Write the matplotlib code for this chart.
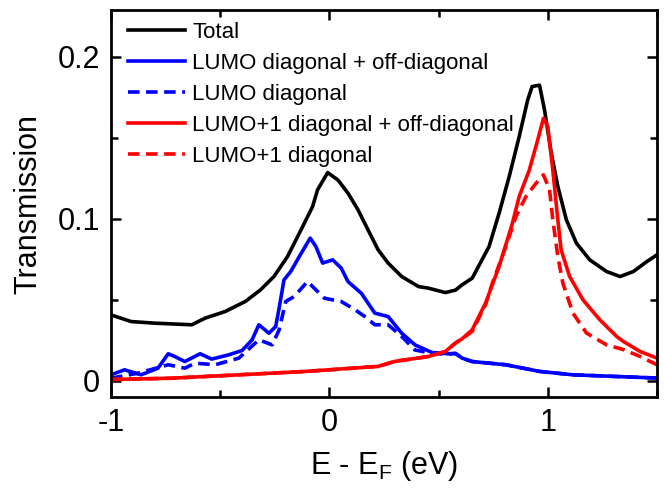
import numpy as np
import matplotlib
matplotlib.use('Agg')
import matplotlib.pyplot as plt
from matplotlib.ticker import MultipleLocator

plt.rcParams['font.family'] = ['Liberation Sans', 'DejaVu Sans']
plt.rcParams['mathtext.fontset'] = 'custom'
plt.rcParams['mathtext.rm'] = 'Liberation Sans'

# Total transmission
e_total = [-1.0, -0.908, -0.80, -0.63, -0.569, -0.477, -0.385, -0.315, -0.254, -0.192,
           -0.13, -0.077, -0.054, -0.008, 0.039, 0.085, 0.131, 0.177, 0.223, 0.269,
           0.331, 0.408, 0.454, 0.531, 0.577, 0.608, 0.654, 0.731, 0.777, 0.823,
           0.869, 0.908, 0.928, 0.962, 0.985, 1.016, 1.046, 1.085, 1.131, 1.192,
           1.269, 1.331, 1.392, 1.454, 1.50]
t_total = [0.0407, 0.0366, 0.0356, 0.0346, 0.0387, 0.0428, 0.049, 0.0562, 0.0644, 0.0767,
           0.0932, 0.1076, 0.118, 0.1286, 0.124, 0.1159, 0.1056, 0.0932, 0.0809, 0.0727,
           0.0644, 0.0582, 0.0572, 0.0545, 0.056, 0.0593, 0.0634, 0.0829, 0.1035, 0.126,
           0.1508, 0.1735, 0.1817, 0.1826, 0.1673, 0.1405, 0.12, 0.0994, 0.085, 0.0747,
           0.0675, 0.0644, 0.0675, 0.0737, 0.0778]

# LUMO diagonal + off-diagonal
e_lumo = [-1.0, -0.938, -0.862, -0.785, -0.738, -0.708, -0.662, -0.592, -0.539, -0.462,
          -0.4, -0.354, -0.323, -0.277, -0.246, -0.23, -0.208, -0.177, -0.138, -0.088,
          -0.062, -0.031, 0.015, 0.054, 0.085, 0.146, 0.208, 0.269, 0.331, 0.392,
          0.469, 0.546, 0.577, 0.608, 0.654, 0.808, 0.962, 1.115, 1.5]
t_lumo = [0.0037, 0.0068, 0.0037, 0.0078, 0.0167, 0.015, 0.0119, 0.0167, 0.0134, 0.016,
          0.0187, 0.0253, 0.0346, 0.0294, 0.0335, 0.045, 0.0623, 0.0675, 0.0767, 0.0881,
          0.083, 0.0727, 0.0747, 0.0696, 0.0613, 0.0541, 0.0418, 0.0397, 0.0294, 0.0222,
          0.0175, 0.0167, 0.017, 0.014, 0.0119, 0.0099, 0.0058, 0.0037, 0.0017]

# LUMO diagonal
e_lumo_d = [-1.0, -0.877, -0.738, -0.662, -0.615, -0.523, -0.415, -0.323, -0.262, -0.23,
            -0.2, -0.162, -0.1, -0.062, -0.023, 0.054, 0.116, 0.162, 0.208, 0.269,
            0.331, 0.392, 0.485, 0.546, 0.577, 0.608, 0.654, 0.808, 0.962, 1.115, 1.5]
t_lumo_d = [0.0016, 0.0047, 0.0099, 0.0078, 0.0109, 0.0099, 0.014, 0.0253, 0.0222, 0.0315,
            0.049, 0.052, 0.0613, 0.0562, 0.051, 0.049, 0.044, 0.0397, 0.0346, 0.0346,
            0.0274, 0.019, 0.0167, 0.0165, 0.0168, 0.014, 0.0119, 0.0099, 0.0058, 0.0037, 0.0017]

# LUMO+1 diagonal + off-diagonal
e_lumo1 = [-1.0, -0.723, -0.415, -0.108, 0.223, 0.3, 0.454, 0.531, 0.577, 0.608,
           0.654, 0.715, 0.777, 0.838, 0.869, 0.915, 0.954, 0.98, 1.0, 1.023,
           1.046, 1.061, 1.1, 1.161, 1.238, 1.315, 1.346, 1.423, 1.5]
t_lumo1 = [0.0008, 0.0016, 0.0037, 0.0058, 0.0089, 0.012, 0.015, 0.0181, 0.0233, 0.026,
           0.0315, 0.048, 0.0706, 0.0973, 0.1138, 0.130, 0.1488, 0.1621, 0.157, 0.130,
           0.0994, 0.0809, 0.0644, 0.050, 0.0377, 0.0274, 0.0243, 0.0181, 0.014]

# LUMO+1 diagonal
e_lumo1_d = [-1.0, -0.723, -0.415, -0.108, 0.223, 0.3, 0.454, 0.531, 0.577, 0.608,
             0.654, 0.715, 0.746, 0.808, 0.854, 0.9, 0.946, 0.98, 1.008, 1.023,
             1.046, 1.069, 1.115, 1.177, 1.269, 1.346, 1.423, 1.5]
t_lumo1_d = [0.0008, 0.0016, 0.0037, 0.0058, 0.0089, 0.012, 0.015, 0.0181, 0.0233, 0.026,
             0.0305, 0.047, 0.0603, 0.0829, 0.1014, 0.1138, 0.122, 0.1272, 0.118, 0.0994,
             0.0767, 0.0603, 0.0418, 0.0295, 0.0222, 0.0193, 0.015, 0.0099]

fig = plt.figure(figsize=(6.64, 4.96), dpi=100)
ax = fig.add_axes([111 / 664, 99 / 496, 546 / 664, 387 / 496])

lw = 2.6
dash = (0, (3.2, 1.8))
ax.plot(e_total, t_total, color='black', lw=lw, label='Total')
ax.plot(e_lumo, t_lumo, color='#0000ff', lw=lw, label='LUMO diagonal + off-diagonal')
ax.plot(e_lumo_d, t_lumo_d, color='#0000ff', lw=lw, ls=dash, label='LUMO diagonal')
ax.plot(e_lumo1, t_lumo1, color='#ff0000', lw=lw, label='LUMO+1 diagonal + off-diagonal')
ax.plot(e_lumo1_d, t_lumo1_d, color='#ff0000', lw=lw, ls=dash, label='LUMO+1 diagonal')

ax.set_xlim(-1, 1.5)
ax.set_ylim(-0.01, 0.229)
ax.xaxis.set_major_locator(MultipleLocator(1))
ax.xaxis.set_minor_locator(MultipleLocator(0.5))
ax.yaxis.set_major_locator(MultipleLocator(0.1))
ax.yaxis.set_minor_locator(MultipleLocator(0.05))
ax.xaxis.set_major_formatter(plt.FuncFormatter(lambda v, p: '%g' % v))
ax.yaxis.set_major_formatter(plt.FuncFormatter(lambda v, p: '%g' % v))

ax.tick_params(which='both', direction='in', top=True, right=True, width=1.8,
               labelsize=22, pad=8)
ax.tick_params(which='major', length=7)
ax.tick_params(which='minor', length=5)
for s in ax.spines.values():
    s.set_linewidth(2)

ax.set_xlabel(r'E - E$_\mathregular{F}$ (eV)', fontsize=22, labelpad=8)
ax.set_ylabel('Transmission', fontsize=22, labelpad=10)

ax.legend(loc='upper left', frameon=False, fontsize=16, handlelength=2.6,
          handletextpad=0.3, labelspacing=0.45, borderaxespad=0.15,
          bbox_to_anchor=(0.008, 1.0))

fig.savefig('out.png', dpi=100)
